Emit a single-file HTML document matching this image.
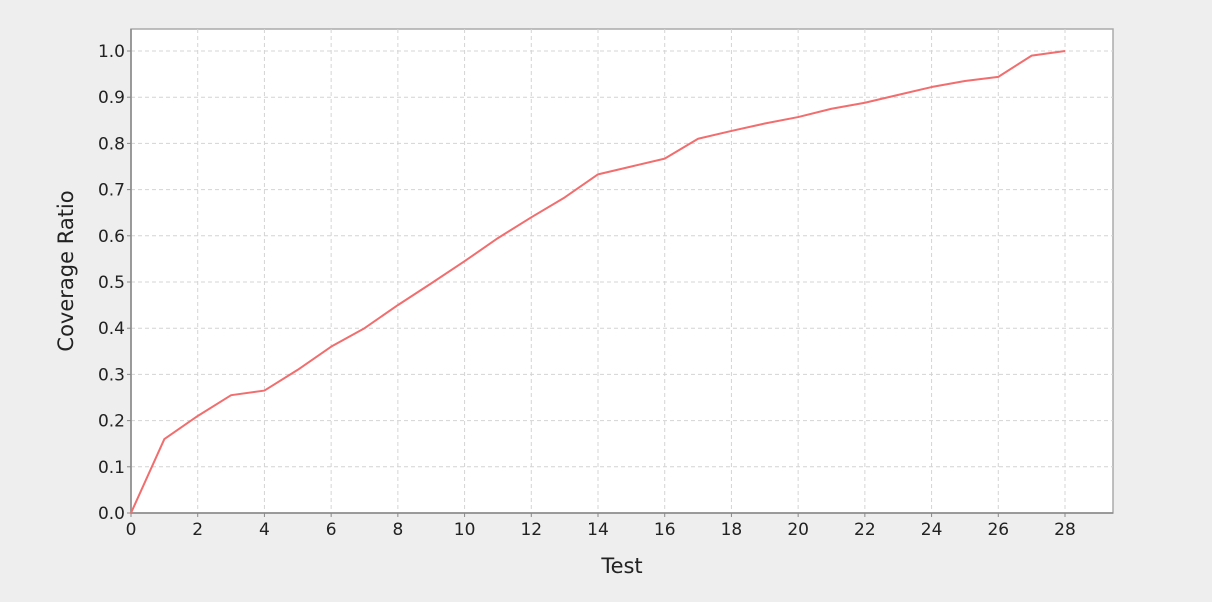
<!DOCTYPE html>
<html><head><meta charset="utf-8"><style>
html,body{margin:0;padding:0;background:#eeeeee;width:1212px;height:602px;overflow:hidden}
svg{display:block;font-family:"DejaVu Sans","Liberation Sans",sans-serif}
</style></head><body>
<svg id="chart" width="1212" height="602" xmlns="http://www.w3.org/2000/svg">
<rect x="131" y="29" width="982" height="484" fill="#ffffff" stroke="#aaaaaa" stroke-width="1.5"/>
<g id="grid"></g>
<g id="axes"></g>
<polyline id="series" fill="none" stroke="#f26d6d" stroke-width="2" stroke-linejoin="round"/>
<text x="622" y="573" text-anchor="middle" font-size="21" fill="#222">Test</text>
<text transform="translate(73,271) rotate(-90)" text-anchor="middle" font-size="21" fill="#222">Coverage Ratio</text>
</svg>
<script>
const xValues = [0,1,2,3,4,5,6,7,8,9,10,11,12,13,14,15,16,17,18,19,20,21,22,23,24,25,26,27,28];
const coverage = [0,0.16,0.21,0.255,0.265,0.31,0.36,0.40,0.45,0.497,0.545,0.595,0.64,0.683,0.733,0.75,0.767,0.81,0.827,0.843,0.857,0.875,0.888,0.905,0.922,0.935,0.944,0.99,1.0];
const xTicks = [0,2,4,6,8,10,12,14,16,18,20,22,24,26,28];
const yTicks = [0,0.1,0.2,0.3,0.4,0.5,0.6,0.7,0.8,0.9,1.0];

const NS = "http://www.w3.org/2000/svg";
const L=131,R=1113,T=29,B=513;
const xs = v => 131 + v*(1065-131)/28;
const ys = v => 513 - v*462;
const grid=document.getElementById('grid'), axes=document.getElementById('axes');
function mk(tag,attrs,parent){const e=document.createElementNS(NS,tag);for(const k in attrs)e.setAttribute(k,attrs[k]);parent.appendChild(e);return e;}
yTicks.forEach(v=>{
  const y=ys(v);
  const g=mk('line',{x1:L,x2:R,y1:y,y2:y,stroke:'#d4d4d4','stroke-dasharray':'4,3','stroke-width':1},grid);
  
  
  const t=mk('line',{x1:L-4,x2:L,y1:y,y2:y,stroke:'#888','stroke-width':1},axes);
  
  
  const tx=mk('text',{x:L-6,y:y+6,'text-anchor':'end','font-size':17,fill:'#222'},axes);
  tx.textContent=v.toFixed(1);
  
  
});
xTicks.forEach(v=>{
  const x=xs(v);
  const g=mk('line',{x1:x,x2:x,y1:T,y2:B,stroke:'#d4d4d4','stroke-dasharray':'4,3','stroke-width':1},grid);
  
  
  const t=mk('line',{x1:x,x2:x,y1:B,y2:B+4,stroke:'#888','stroke-width':1},axes);
  
  
  const tx=mk('text',{x:x,y:B+22,'text-anchor':'middle','font-size':17,fill:'#222'},axes);
  tx.textContent=v;
  
  
});
const la=mk('line',{x1:L,x2:L,y1:T,y2:B,stroke:'#888','stroke-width':1.5},axes);


const lb=mk('line',{x1:L,x2:R,y1:B,y2:B,stroke:'#888','stroke-width':1.5},axes);


document.getElementById('series').setAttribute('points',xValues.map((x,i)=>xs(x)+','+ys(coverage[i])).join(' '));
</script>
</body></html>
